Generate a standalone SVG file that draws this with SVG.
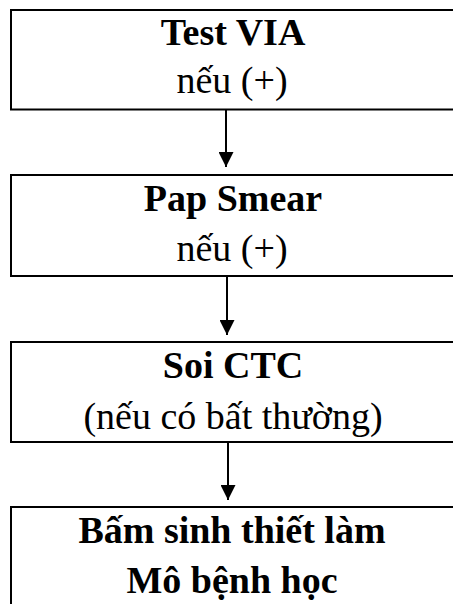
<svg xmlns="http://www.w3.org/2000/svg" width="453" height="604" viewBox="0 0 453 604">
  <defs>
    <style>
      .box { fill: #ffffff; stroke: #000000; stroke-width: 2; }
      .t { font-family: "Liberation Serif", "Times New Roman", serif; font-size: 38px; fill: #000000; text-anchor: middle; }
      .b { font-weight: bold; }
      .edge { stroke: #000000; stroke-width: 2; fill: none; marker-end: url(#arrow); }
    </style>
    <marker id="arrow" markerUnits="userSpaceOnUse" markerWidth="16" markerHeight="15" refX="15" refY="7.5" orient="auto">
      <path d="M0,0 L15,7.5 L0,15 Z" fill="#000000"/>
    </marker>
  </defs>
  <rect width="453" height="604" fill="#ffffff"/>

  <g id="connectors">
    <line class="edge" x1="226" y1="110" x2="226" y2="167"/>
    <line class="edge" x1="227" y1="277" x2="227" y2="335"/>
    <line class="edge" x1="228" y1="443" x2="228" y2="500"/>
  </g>

  <g id="test-via">
    <rect class="box" x="11" y="10" width="460" height="99.5"/>
    <text class="t b" x="233" y="45">Test VIA</text>
    <text class="t" x="232" y="93">nếu (+)</text>
  </g>

  <g id="pap-smear">
    <rect class="box" x="11" y="175" width="460" height="101"/>
    <text class="t b" x="233" y="211">Pap Smear</text>
    <text class="t" x="232" y="261">nếu (+)</text>
  </g>

  <g id="soi-ctc">
    <rect class="box" x="11" y="342" width="460" height="100"/>
    <text class="t b" x="233" y="378">Soi CTC</text>
    <text class="t" x="233" y="429">(nếu có bất thường)</text>
  </g>

  <g id="sinh-thiet">
    <rect class="box" x="11" y="507" width="460" height="120"/>
    <text class="t b" x="232" y="543">Bấm sinh thiết làm</text>
    <text class="t b" x="232" y="593">Mô bệnh học</text>
  </g>
</svg>
